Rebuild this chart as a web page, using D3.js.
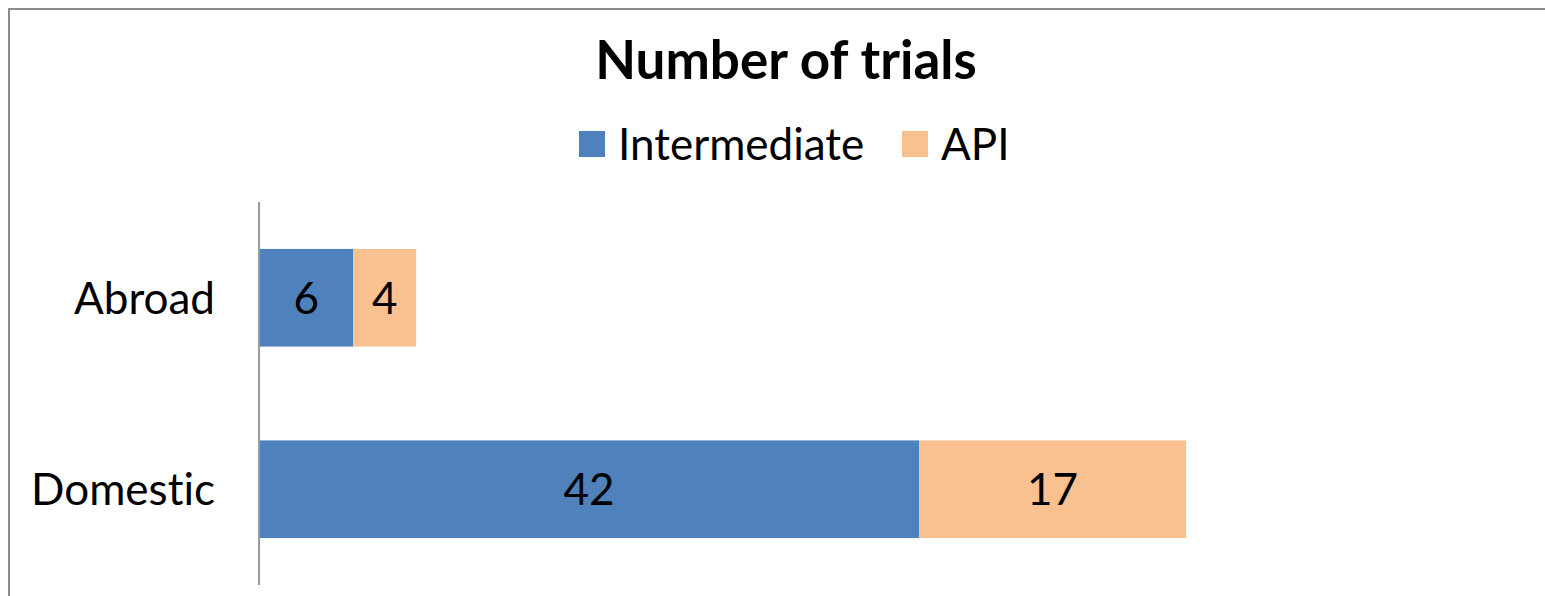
<!DOCTYPE html>
<html>
<head>
<meta charset="utf-8">
<script src="https://cdn.jsdelivr.net/npm/d3@7"></script>
<style>
  body { margin: 0; background: #fff; }
  svg text { font-family: Lato, "Open Sans", sans-serif; fill: #000; font-variant-ligatures: none; }
</style>
</head>
<body>
<div id="chart"></div>
<script>
const categories = ["Abroad", "Domestic"]
const seriesNames = ["Intermediate", "API"]
const intermediate = [6, 42]
const api = [4, 17]
const colors = ["#4F81BD", "#F9C090"]

let cfg = {
  w: 1545,
  h: 596,
  left: 259,
  right: 1359,
  top: 202,
  bottom: 585,
  fontSize: 44
}

let svg = d3.select("#chart")
  .append("svg")
  .attr("width", cfg.w)
  .attr("height", cfg.h)

// outer chart border (cut off on right and bottom like the picture)
svg.append("rect")
  .attr("x", 9)
  .attr("y", 9)
  .attr("width", cfg.w + 20)
  .attr("height", cfg.h + 20)
  .style("fill", "#fff")
  .style("stroke", "#8c8c8c")
  .style("stroke-width", "2px")

let x = d3.scaleLinear().domain([0, 70]).range([cfg.left, cfg.right])
let y = d3.scaleBand().domain(categories).range([cfg.top, cfg.bottom])
  .paddingInner(0.49).paddingOuter(0.245)

// stack the two series
let rows = categories.map((c, i) => ({ cat: c, Intermediate: intermediate[i], API: api[i] }))
let stacked = d3.stack().keys(seriesNames)(rows)

let layers = svg.selectAll(".layer")
  .data(stacked)
  .enter()
  .append("g")
  .attr("class", "layer")
  .style("fill", (d, i) => colors[i])

layers.selectAll("rect")
  .data(d => d)
  .enter()
  .append("rect")
  .attr("x", d => x(d[0]))
  .attr("y", d => y(d.data.cat))
  .attr("width", d => x(d[1]) - x(d[0]))
  .attr("height", y.bandwidth())

// value labels in the middle of each segment
layers.selectAll("text")
  .data(d => d)
  .enter()
  .append("text")
  .attr("x", d => (x(d[0]) + x(d[1])) / 2)
  .attr("y", d => y(d.data.cat) + y.bandwidth() / 2)
  .attr("dy", "0.36em")
  .attr("text-anchor", "middle")
  .style("font-size", cfg.fontSize + "px")
  .style("fill", "#000")
  .text(d => d[1] - d[0])

// category axis
let yAxis = svg.append("g")
  .attr("transform", "translate(" + cfg.left + ",0)")
  .call(d3.axisLeft(y).tickSize(0).tickPadding(44))
yAxis.select(".domain")
  .attr("d", "M0," + cfg.top + "V" + cfg.bottom)
  .style("stroke", "#9a9a9a")
  .style("stroke-width", "2px")
yAxis.selectAll("text")
  .attr("dy", "0.36em")
  .style("font-size", cfg.fontSize + "px")
  .style("font-family", "Lato, sans-serif")
  .style("fill", "#000")

// title
svg.append("text")
  .attr("x", 786)
  .attr("y", 79)
  .attr("text-anchor", "middle")
  .style("font-size", "53px")
  .style("font-weight", "bold")
  .text("Number of trials")

// legend
let legend = svg.append("g").attr("transform", "translate(579,131)")
let item = legend.selectAll(".item")
  .data(seriesNames)
  .enter()
  .append("g")
  .attr("class", "item")
  .attr("transform", (d, i) => "translate(" + (i * 323) + ",0)")
item.append("rect")
  .attr("width", 26)
  .attr("height", 26)
  .style("fill", (d, i) => colors[i])
item.append("text")
  .attr("x", 39)
  .attr("y", 13)
  .attr("dy", "0.36em")
  .style("font-size", cfg.fontSize + "px")
  .text(d => d)
</script>
</body>
</html>
